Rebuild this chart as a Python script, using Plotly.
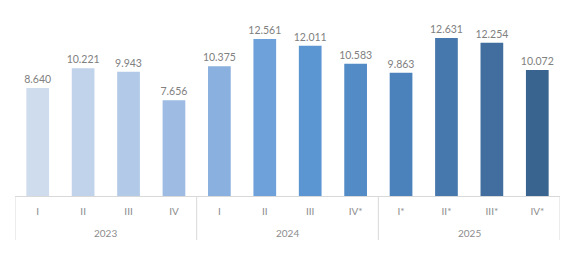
import plotly.graph_objects as go

years = ["2023", "2024", "2025"]
quarters = ["I", "II", "III", "IV", "I", "II", "III", "IV*", "I*", "II*", "III*", "IV*"]
values = [8640, 10221, 9943, 7656, 10375, 12561, 12011, 10583, 9863, 12631, 12254, 10072]
colors = ["#CFDCEE", "#C1D3EB", "#B2C9E7", "#9EBCE3", "#8AB0DF", "#6EA0DA",
          "#5B96D3", "#528BC6", "#4B82BB", "#4678AD", "#416E9E", "#3A6490"]

pos = list(range(len(values)))

fig = go.Figure(go.Bar(
    x=pos,
    y=values,
    marker=dict(color=colors, line=dict(width=0)),
    width=0.5,
    texttemplate="%{y:,}",
    textposition="outside",
    constraintext="none",
    textfont=dict(family="Lato", size=10.5, color="#808080"),
    cliponaxis=False,
))

plot_h = 259 - 21 - 63
shapes = []
for b in [-0.5, 3.5, 7.5, 11.5]:
    shapes.append(dict(type="line", xref="x", yref="paper", x0=b, x1=b,
                       y0=0, y1=-44 / plot_h, line=dict(color="#d9d9d9", width=1)))
annotations = []
for i, yr in enumerate(years):
    annotations.append(dict(x=i * 4 + 1.5, xref="x", y=-37 / plot_h, yref="paper",
                            text=yr, showarrow=False, yanchor="middle",
                            font=dict(family="Lato", size=10, color="#8c8c8c")))

fig.update_layout(
    width=588, height=259,
    margin=dict(l=15, r=28, t=21, b=63),
    paper_bgcolor="white", plot_bgcolor="white",
    separators=",.",
    showlegend=False,
    shapes=shapes,
    annotations=annotations,
    xaxis=dict(
        range=[-0.5, 11.5],
        tickvals=pos, ticktext=quarters,
        showline=True, linecolor="#d9d9d9", linewidth=1,
        showgrid=False, zeroline=False,
        tickfont=dict(family="Lato", size=10, color="#8c8c8c"),
        ticks="", ticklen=0, ticklabelstandoff=6,
    ),
    yaxis=dict(visible=False, range=[0, 14000]),
)

fig.write_html("out.html")
